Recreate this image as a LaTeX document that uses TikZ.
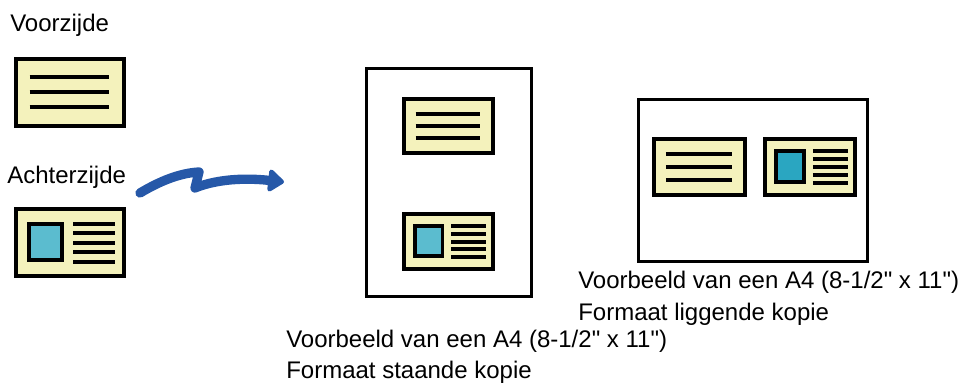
\documentclass[tikz,border=0pt]{standalone}
\usepackage{fontspec}
\setmainfont{Liberation Sans}
\usetikzlibrary{arrows.meta}
\definecolor{cardfill}{HTML}{F4F2BC}
\definecolor{photofill}{HTML}{5BBCCF}
\definecolor{photodark}{HTML}{2AA6C1}
\definecolor{arrowblue}{HTML}{2658A8}

\begin{document}
\begin{tikzpicture}[
  x=0.75pt, y=-0.75pt,
  cardbox/.style={rectangle, draw=black, line width=3pt, fill=cardfill, inner sep=0pt,
                  minimum width=81pt, minimum height=50pt, transform shape},
  photo/.style={rectangle, draw=black, line width=2.7pt, fill=photofill, inner sep=0pt,
                minimum width=25pt, minimum height=27.3pt, transform shape},
  textline/.style={line width=3pt},
  page/.style={rectangle, draw=black, line width=2.2pt, fill=white, inner sep=0pt},
  lab/.style={font=\fontsize{18}{21}\selectfont, inner sep=0pt, anchor=base west},
  swoosh/.style={draw=arrowblue, line width=7pt, line cap=round, line join=round,
                 -{Triangle[round, length=13pt, width=19pt]}},
  frontcard/.pic={
    \node[cardbox] (-box) at (0,0) {};
    \foreach \ty in {-15,0,15}
      \draw[textline] (-40,\ty) -- (39,\ty);
  },
  backcard/.pic={
    \node[cardbox] (-box) at (0,0) {};
    \node[photo] (-photo) at (-24,-0.5) {};
    \foreach \ty in {-19,-9.5,0,9.5,19}
      \draw[textline] (3.5,\ty) -- (45.5,\ty);
  },
]
\useasboundingbox (0,0) rectangle (961,385);
% originals: front and back side
\node[lab] (lblFront) at (10,32) {Voorzijde};
\pic (frontL) at (69.5,92.5) {frontcard};
\node[lab] (lblBack) at (7,183) {Achterzijde};
\pic (backL) at (69.5,242.5) {backcard};
% swoosh arrow to the results
\coordinate (arrS) at (140,193);
\coordinate (arrE) at (284,182);
\draw[swoosh] (arrS) .. controls (160,181) and (180,173) .. (199,172) -- (195,188)
              .. controls (212,181) and (238,177) .. (arrE);
% portrait sheet
\node[page, minimum width=123.75pt, minimum height=171pt] (portrait) at (449,182.5) {};
\pic[scale=0.82] (frontP) at (448.5,126) {frontcard};
\pic[scale=0.82] (backP) at (448.5,241.5) {backcard};
\node[lab] (capP1) at (286,347) {Voorbeeld van een A4 (8-1/2\textquotedbl{} x 11\textquotedbl)};
\node[lab] (capP2) at (286,378) {Formaat staande kopie};
% landscape sheet
\node[page, minimum width=171.75pt, minimum height=121.5pt] (landscape) at (753,180.5) {};
\pic[scale=0.84] (frontLs) at (699.5,167) {frontcard};
\pic[scale=0.84, photo/.append style={fill=photodark}] (backLs) at (810,167) {backcard};
\node[lab] (capL1) at (578,288.5) {Voorbeeld van een A4 (8-1/2\textquotedbl{} x 11\textquotedbl)};
\node[lab] (capL2) at (578,320) {Formaat liggende kopie};
\end{tikzpicture}
\end{document}
